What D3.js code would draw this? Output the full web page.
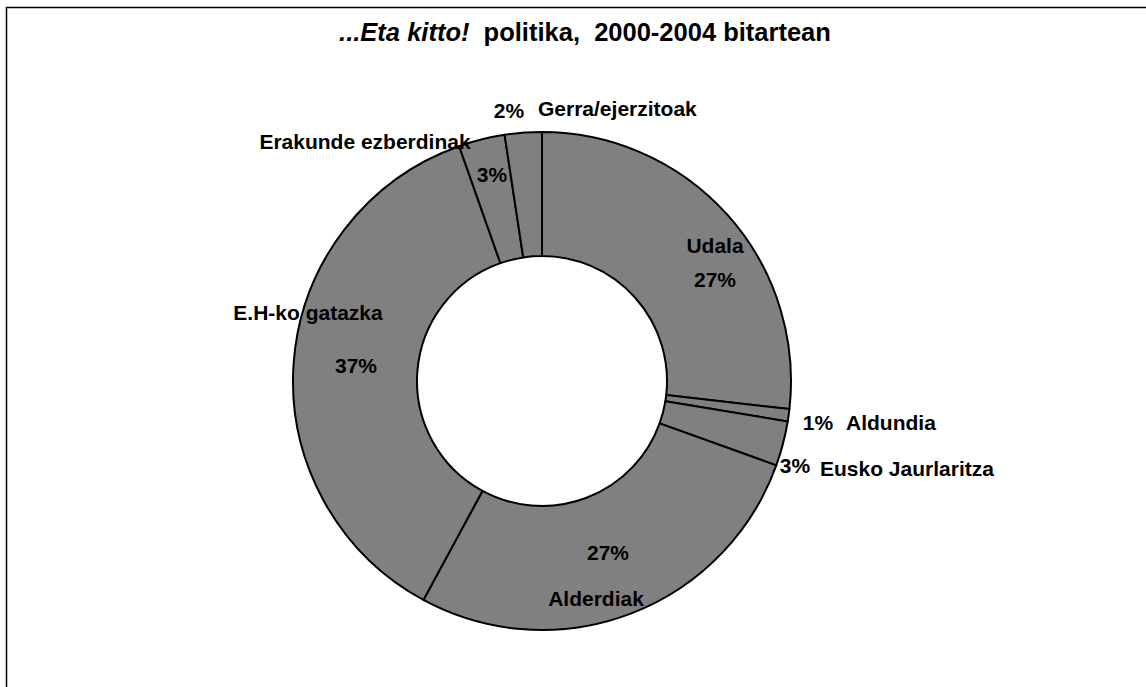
<!DOCTYPE html>
<html>
<head>
<meta charset="utf-8">
<script src="https://cdn.jsdelivr.net/npm/d3@7"></script>
<style>
  body { margin: 0; background: #fff; }
  text { font-family: "Liberation Sans", Arial, sans-serif; font-weight: bold; fill: #000; }
</style>
</head>
<body>
<svg id="chart" width="1146" height="687"></svg>
<script>
// categories in drawing order, clockwise from 12 o'clock
var categories = ['Udala', 'Aldundia', 'Eusko Jaurlaritza', 'Alderdiak', 'E.H-ko gatazka', 'Erakunde ezberdinak', 'Gerra/ejerzitoak'];
var shares = [26.8, 0.8, 2.9, 27.4, 36.7, 3.0, 2.4];
var pctLabels = ['27%', '1%', '3%', '27%', '37%', '3%', '2%'];

// label placement per slice (absolute, as in the original layout)
var labelPos = [
    {name: [715, 253], pct: [715, 287]},
    {name: [846, 430], pct: [818, 430], inline: true},
    {name: [820, 476], pct: [795, 473], inline: true},
    {name: [596, 606], pct: [608, 560]},
    {name: [308, 320], pct: [356, 373]},
    {name: [365, 149], pct: [492, 182]},
    {name: [538, 116], pct: [509, 118], inline: true}
];

var svg = d3.select('#chart');

// outer frame (runs off the right and bottom edges)
svg.append('rect')
    .attr('x', 6.5).attr('y', 7.5)
    .attr('width', 1160).attr('height', 700)
    .attr('fill', 'none').attr('stroke', '#000').attr('stroke-width', 1.5);

// title
var title = svg.append('text')
    .attr('x', 585).attr('y', 41)
    .attr('text-anchor', 'middle')
    .style('font-size', '25.5px');
title.append('tspan').style('font-style', 'italic').text('...Eta kitto!');
title.append('tspan').attr('xml:space', 'preserve').text('  politika,  2000-2004 bitartean');

var cx = 542, cy = 381, outerR = 249, innerR = 125;

var pie = d3.pie().sort(null).value(function(d) { return d; });
var arc = d3.arc().innerRadius(innerR).outerRadius(outerR);

var g = svg.append('g').attr('transform', 'translate(' + cx + ',' + cy + ')');

g.selectAll('path.slice')
    .data(pie(shares))
    .enter().append('path')
    .attr('class', 'slice')
    .attr('d', arc)
    .attr('fill', '#808080')
    .attr('stroke', '#000')
    .attr('stroke-width', 2)
    .attr('stroke-linejoin', 'round');

// labels
var labels = svg.append('g').style('font-size', '21px');
categories.forEach(function(c, i) {
    var p = labelPos[i];
    labels.append('text')
        .attr('x', p.name[0]).attr('y', p.name[1])
        .attr('text-anchor', p.inline ? 'start' : 'middle')
        .text(c);
    labels.append('text')
        .attr('x', p.pct[0]).attr('y', p.pct[1])
        .attr('text-anchor', 'middle')
        .text(pctLabels[i]);
});
</script>
</body>
</html>
